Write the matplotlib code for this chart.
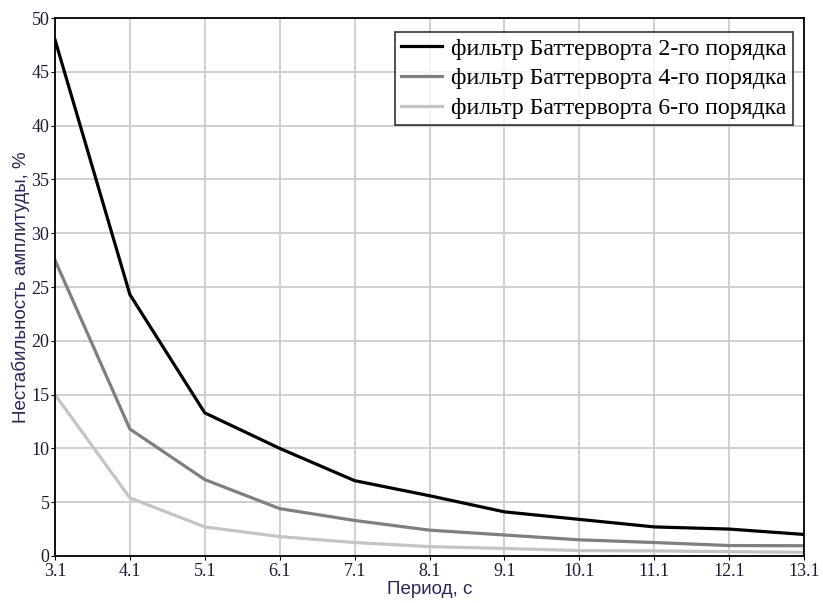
import numpy as np
import matplotlib
matplotlib.use('Agg')
from matplotlib import pyplot as plt

# Data
period = [3.1, 4.1, 5.1, 6.1, 7.1, 8.1, 9.1, 10.1, 11.1, 12.1, 13.1]
order2 = [48.0, 24.3, 13.3, 10.0, 7.0, 5.6, 4.1, 3.4, 2.7, 2.5, 2.0]
order4 = [27.5, 11.8, 7.1, 4.4, 3.3, 2.4, 1.95, 1.5, 1.25, 0.97, 0.95]
order6 = [15.0, 5.4, 2.7, 1.8, 1.25, 0.87, 0.7, 0.5, 0.47, 0.4, 0.34]
labels = ['фильтр Баттерворта 2-го порядка',
          'фильтр Баттерворта 4-го порядка',
          'фильтр Баттерворта 6-го порядка']

fig = plt.figure(figsize=(8.23, 6.03), dpi=100)
ax1 = fig.add_axes([0.0668, 0.078, 0.9102, 0.892])

ax1.plot(period, order2, c='black', lw=2.3, label=labels[0])
ax1.plot(period, order4, c='#7f7f7f', lw=2.3, label=labels[1])
ax1.plot(period, order6, c='#c4c4c4', lw=2.3, label=labels[2])

ax1.set_xlim(3.1, 13.1)
ax1.set_ylim(0, 50)
ax1.set_xticks(period)
ax1.set_xticklabels([str(p) for p in period])
ax1.set_yticks(range(0, 51, 5))
ax1.grid(True, color='#cccccc', lw=1.3)
ax1.set_axisbelow(True)
for s in ax1.spines.values():
    s.set_color('black')
    s.set_linewidth(1.3)

for t in ax1.get_xticklabels() + ax1.get_yticklabels():
    t.set_family('Liberation Serif')
    t.set_fontsize(13)
    t.set_color('#1a1a3a')
ax1.tick_params(axis='both', length=3, pad=1)
ax1.tick_params(axis='x', pad=2)

lab_font = dict(family='Liberation Sans', fontsize=13.5, color='#2b2463')
ax1.set_xlabel('Период, с', labelpad=1, **lab_font)
ax1.set_ylabel('Нестабильность амплитуды, %', labelpad=1, **lab_font)

leg = ax1.legend(loc='upper right', bbox_to_anchor=(0.985, 0.974),
                 prop={'family': 'Liberation Serif', 'size': 17.2},
                 frameon=True, fancybox=False, edgecolor='black',
                 handlelength=1.7, handletextpad=0.4, borderpad=0.25,
                 labelspacing=0.33, borderaxespad=0)
leg.get_frame().set_linewidth(1.2)

fig.savefig('out.png', dpi=100)
